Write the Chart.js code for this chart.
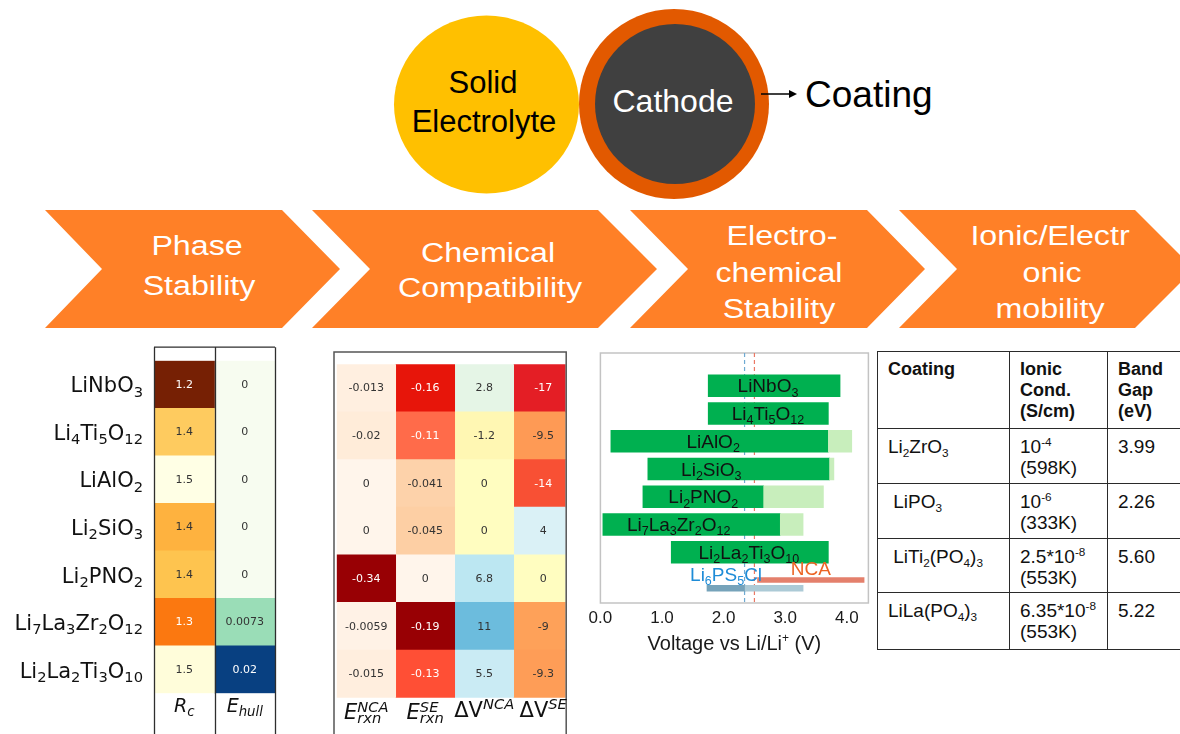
<!DOCTYPE html>
<html><head><meta charset="utf-8">
<script src="https://cdn.jsdelivr.net/npm/chart.js@4.4.1/dist/chart.umd.min.js"></script>
<style>
html,body{margin:0;padding:0;background:#fff;width:1180px;height:734px;overflow:hidden;position:relative;font-family:"Liberation Sans",Arial,sans-serif;}
#deco{position:absolute;left:0;top:0;}
canvas{position:absolute;}
#hm1{left:0;top:340px;}
#hm2{left:320px;top:340px;}
#volt{left:585px;top:340px;}
#tbl{position:absolute;left:877px;top:351px;border-collapse:collapse;table-layout:fixed;width:330px;}
#tbl td{border:1.5px solid #2a2a2a;vertical-align:top;padding:7px 0 0 10px;line-height:21px;font-size:19px;color:#111;white-space:pre;box-sizing:border-box;}
#tbl tr.h td{font-weight:bold;font-size:18px;}
#tbl sub{font-size:0.62em;vertical-align:-0.3em;line-height:0;}
#tbl sup{font-size:0.62em;vertical-align:0.6em;line-height:0;}
</style></head>
<body>
<svg id="deco" width="1180" height="734" font-family="Liberation Sans, Arial, sans-serif">
  <ellipse cx="486.5" cy="104.5" rx="92.5" ry="89" fill="#FFC000"/>
  <circle cx="674" cy="104" r="95" fill="rgb(226,89,0)"/>
  <circle cx="675" cy="104" r="80" fill="#404040"/>
  <text x="483" y="93" font-size="31" text-anchor="middle" fill="#000">Solid</text>
  <text x="484" y="132" font-size="31" text-anchor="middle" fill="#000">Electrolyte</text>
  <text x="673" y="112" font-size="32" text-anchor="middle" fill="#fff">Cathode</text>
  <line x1="761" y1="94" x2="790" y2="94" stroke="#000" stroke-width="1.5"/>
  <polygon points="789,90 797,94 789,98" fill="#000"/>
  <text x="805" y="107" font-size="37" fill="#000">Coating</text>
  <g fill="rgb(255,128,39)">
    <polygon points="45,210 282,210 340,269 282,328 45,328 102,269"/>
    <polygon points="312,210 598,210 657,269 598,328 312,328 370,269"/>
    <polygon points="630,210 867,210 925,269 867,328 630,328 688,269"/>
    <polygon points="899,210 1135,210 1194,269 1135,328 899,328 957,269"/>
  </g>
  <g fill="#fff" font-size="28" text-anchor="middle">
    <text transform="translate(197,255) scale(1.15,1)">Phase</text>
    <text transform="translate(199,295) scale(1.15,1)">Stability</text>
    <text transform="translate(488,262) scale(1.15,1)">Chemical</text>
    <text transform="translate(490,297) scale(1.15,1)">Compatibility</text>
    <text transform="translate(782,245) scale(1.15,1)">Electro-</text>
    <text transform="translate(779,282) scale(1.15,1)">chemical</text>
    <text transform="translate(779,318) scale(1.15,1)">Stability</text>
    <text transform="translate(1050,245) scale(1.15,1)">Ionic/Electr</text>
    <text transform="translate(1052,282) scale(1.15,1)">onic</text>
    <text transform="translate(1050,318) scale(1.15,1)">mobility</text>
  </g>
</svg>
<canvas id="hm1" width="290" height="394"></canvas>
<canvas id="hm2" width="260" height="394"></canvas>
<canvas id="volt" width="290" height="320"></canvas>
<table id="tbl"></table>
<script>
// ---------------- DATA ----------------
const coatings = ['LiNbO_3','Li_4Ti_5O_{12}','LiAlO_2','Li_2SiO_3','Li_2PNO_2','Li_7La_3Zr_2O_{12}','Li_2La_2Ti_3O_{10}'];
// Phase stability
const rc    = [1.21, 1.40, 1.50, 1.376, 1.391, 1.326, 1.49];
const eHull = [0, 0, 0, 0, 0, 0.0073, 0.02];
const phaseLabels = ['R_c', 'E_{hull}'];
// Chemical compatibility
const eRxnNCA = [-0.013, -0.02, 0, 0, -0.34, -0.0059, -0.015];
const eRxnSE  = [-0.16, -0.11, -0.041, -0.045, 0, -0.19, -0.13];
const dVNCA   = [2.8, -1.2, 0, 0, 6.8, 11, 5.5];
const dVSE    = [-17, -9.5, -14, 4, 0, -9, -9.3];
const chemLabels = ['E_{rxn}^{NCA}', 'E_{rxn}^{SE}', 'ΔV^{NCA}', 'ΔV^{SE}'];
// Electrochemical stability windows (V vs Li/Li+)
const stableLow    = [1.75, 1.75, 0.17, 0.77, 0.69, 0.04, 1.15];
const stableHigh   = [3.89, 3.70, 3.70, 3.72, 2.65, 2.92, 3.70];
const extendedHigh = [null, null, 4.08, 3.79, 3.62, 3.29, null];
const ncaWindow    = [2.55, 4.28];
const lpscStable   = [1.73, 2.35];
const lpscExtended = [2.35, 3.29];
const seLimit = 2.34, ncaLimit = 2.50;
const voltTicks = [0, 1, 2, 3, 4];
// Ionic / electronic mobility table
const tblCoatings = ['Li_2ZrO_3', ' LiPO_3', ' LiTi_2(PO_4)_3', 'LiLa(PO_4)_3'];
const ionicCond   = ['10^{-4}', '10^{-6}', '2.5*10^{-8}', '6.35*10^{-8}'];
const condTemp    = ['598K', '333K', '553K', '553K'];
const bandGap     = ['3.99', '2.26', '5.60', '5.22'];

// ---------------- STYLE ----------------
const voltStyle = { labelAt: [2.72, 2.72, 1.83, 1.80, 1.67, 1.27, 2.41] };
const YLORBR = [[0,[255,255,229]],[.125,[255,247,188]],[.25,[254,227,145]],[.375,[254,196,79]],[.5,[254,153,41]],[.625,[250,112,10]],[.75,[210,76,2]],[.875,[160,52,4]],[1,[118,32,4]]];
const GNBU = [[0,[247,252,240]],[.125,[224,243,219]],[.25,[204,235,197]],[.375,[150,220,182]],[.5,[123,204,196]],[.625,[78,179,211]],[.75,[43,140,190]],[.875,[8,104,172]],[1,[8,64,129]]];
const ERXN = [[0,[255,245,235]],[.25,[253,205,160]],[.55,[255,115,80]],[.7,[255,75,50]],[.85,[230,18,8]],[1,[152,0,4]]];
const RDYLBU = [[0,[190,0,35]],[.1,[240,40,38]],[.2,[255,120,65]],[.3,[253,175,97]],[.4,[254,232,150]],[.5,[255,253,192]],[.6,[218,241,246]],[.7,[175,226,240]],[.8,[85,175,215]],[.9,[60,120,180]],[1,[49,54,149]]];

function cmap(stops, t){
  t = Math.max(0, Math.min(1, t));
  for (let i = 1; i < stops.length; i++){
    if (t <= stops[i][0]){
      const [t0,c0] = stops[i-1], [t1,c1] = stops[i];
      const f = (t - t0) / (t1 - t0);
      return c0.map((v,k) => Math.round(v + (c1[k]-v)*f));
    }
  }
  return stops[stops.length-1][1];
}
const rgbStr = c => `rgb(${c[0]},${c[1]},${c[2]})`;
function lum(c){
  const l = c.map(v => { v/=255; return v <= 0.03928 ? v/12.92 : Math.pow((v+0.055)/1.055, 2.4); });
  return 0.2126*l[0] + 0.7152*l[1] + 0.0722*l[2];
}
function g2(v){
  if (v === 0) return '0';
  let s = v.toPrecision(2);
  if (s.includes('e')) s = String(Number(s));
  if (s.includes('.')) s = s.replace(/0+$/, '').replace(/\.$/, '');
  return s;
}
function parseRich(s){
  const out = []; let i = 0, buf = '';
  const flush = () => { if (buf){ out.push({k:'n', t:buf}); buf=''; } };
  while (i < s.length){
    const ch = s[i];
    if (ch === '_' || ch === '^'){
      flush(); let t;
      if (s[i+1] === '{'){ const j = s.indexOf('}', i+2); t = s.slice(i+2, j); i = j+1; }
      else { t = s[i+1]; i += 2; }
      out.push({k: ch === '_' ? 'sub' : 'sup', t});
    } else { buf += ch; i++; }
  }
  flush(); return out;
}
const fontStr = (it, sz, fam) => `${it ? 'italic ' : ''}${sz}px "${fam}"`;
function drawRich(ctx, s, x, y, o){
  o = Object.assign({italic:false, scale:0.7, subDy:0.2, supDy:0.4, subDy2:0.2, supDy2:0.36, align:'left', color:'#111'}, o);
  const toks = parseRich(s), items = []; let w = 0;
  const bf = fontStr(o.italic, o.size, o.family);
  const sf = fontStr(o.scriptItalic ?? o.italic, o.size*o.scale, o.family);
  for (let i = 0; i < toks.length; i++){
    const t = toks[i];
    if (t.k === 'n'){ ctx.font = bf; items.push({t:t.t, x:w, dy:0, f:bf}); w += ctx.measureText(t.t).width; continue; }
    ctx.font = sf;
    const n = toks[i+1];
    if (n && n.k !== 'n' && n.k !== t.k){
      const sub = t.k === 'sub' ? t : n, sup = t.k === 'sup' ? t : n;
      items.push({t:sub.t, x:w, dy:o.size*o.subDy2, f:sf});
      items.push({t:sup.t, x:w, dy:-o.size*o.supDy2, f:sf});
      w += Math.max(ctx.measureText(sub.t).width, ctx.measureText(sup.t).width);
      i++;
    } else {
      items.push({t:t.t, x:w, dy: t.k === 'sub' ? o.size*o.subDy : -o.size*o.supDy, f:sf});
      w += ctx.measureText(t.t).width;
    }
  }
  const x0 = o.align === 'center' ? x - w/2 : o.align === 'right' ? x - w : x;
  ctx.save(); ctx.fillStyle = o.color; ctx.textAlign = 'left'; ctx.textBaseline = 'alphabetic';
  for (const it of items){ ctx.font = it.f; ctx.fillText(it.t, x0 + it.x, y + it.dy); }
  ctx.restore();
  return w;
}

const baseOpts = {
  responsive:false, animation:false, devicePixelRatio:1, events:[],
};
const basePlugins = { legend:{display:false}, tooltip:{enabled:false} };

// heatmap cell-text plugin (shared)
function cellText(chart){
  const {ctx, scales:{x, y}} = chart;
  chart.data.datasets.forEach((ds, c) => {
    ds.values.forEach((v, i) => {
      const col = ds.rgb[i];
      ctx.save();
      ctx.font = '11px "DejaVu Sans"';
      ctx.textAlign = 'center'; ctx.textBaseline = 'middle';
      ctx.fillStyle = lum(col) > 0.408 ? '#333333' : '#ffffff';
      ctx.fillText(g2(v), x.getPixelForValue(c + 0.5), y.getPixelForValue(i) + 0.5);
      ctx.restore();
    });
  });
}

// ---------------- PHASE STABILITY HEATMAP ----------------
(function(){
  const rcMin = Math.min(...rc), rcMax = Math.max(...rc);
  const ehMin = Math.min(...eHull), ehMax = Math.max(...eHull);
  const rcCols = rc.map(v => cmap(YLORBR, (rcMax - v)/(rcMax - rcMin)));
  const ehCols = eHull.map(v => cmap(GNBU, (v - ehMin)/(ehMax - ehMin)));
  const deco = {
    id:'hm1Deco',
    afterDatasetsDraw(chart){
      const {ctx, chartArea:a, scales:{x, y}} = chart;
      cellText(chart);
      ctx.save();
      ctx.strokeStyle = '#2e2e2e'; ctx.lineWidth = 1.3;
      const top = a.top - 13.5;
      ctx.beginPath();
      [0,1,2].forEach(c => { const px = Math.round(x.getPixelForValue(c)) + 0.5; ctx.moveTo(px, top); ctx.lineTo(px, chart.height); });
      ctx.moveTo(x.getPixelForValue(0), top); ctx.lineTo(x.getPixelForValue(2), top);
      ctx.stroke();
      ctx.restore();
      coatings.forEach((c, i) => drawRich(ctx, c, a.left - 11, y.getPixelForValue(i) + 8,
        {size:21, family:'DejaVu Sans', align:'right', color:'#111', scale:0.7, subDy:0.2}));
      phaseLabels.forEach((l, c) => drawRich(ctx, l, x.getPixelForValue(c + 0.5), a.bottom + 18.5,
        {size:19, family:'DejaVu Sans', italic:true, align:'center', color:'#111', scale:0.7, subDy:0.2}));
    }
  };
  new Chart(document.getElementById('hm1'), {
    type:'bar',
    data:{ labels: coatings, datasets:[
      {data: coatings.map(() => [0,1]), backgroundColor: rcCols.map(rgbStr), values: rc, rgb: rcCols},
      {data: coatings.map(() => [1,2]), backgroundColor: ehCols.map(rgbStr), values: eHull, rgb: ehCols}
    ]},
    options: Object.assign({}, baseOpts, {
      indexAxis:'y',
      layout:{padding:{left:154, right:15, top:20.7, bottom:40.7}},
      datasets:{bar:{grouped:false, barPercentage:1, categoryPercentage:1, borderWidth:0}},
      scales:{ x:{type:'linear', min:0, max:2, display:false}, y:{type:'category', display:false} },
      plugins: basePlugins
    }),
    plugins:[deco]
  });
})();

// ---------------- CHEMICAL COMPATIBILITY HEATMAP ----------------
(function(){
  const cols = [eRxnNCA, eRxnSE, dVNCA, dVSE];
  const colors = cols.map((arr, c) => {
    if (c < 2){ const mn = Math.min(...arr); return arr.map(v => cmap(ERXN, v / mn)); }
    return arr.map(v => cmap(RDYLBU, (v + 20) / 40));
  });
  const deco = {
    id:'hm2Deco',
    afterDatasetsDraw(chart){
      const {ctx, chartArea:a, scales:{x, y}} = chart;
      cellText(chart);
      ctx.save();
      ctx.strokeStyle = '#555'; ctx.lineWidth = 1.5;
      const top = a.top - 12.3, l = a.left - 2.7, r = a.right + 0.6;
      ctx.beginPath();
      ctx.moveTo(l, chart.height); ctx.lineTo(l, top); ctx.lineTo(r, top); ctx.lineTo(r, chart.height);
      ctx.stroke();
      ctx.restore();
      chemLabels.forEach((lab, c) => {
        const isE = lab[0] === 'E';
        drawRich(ctx, lab, x.getPixelForValue(c + 0.5), a.bottom + (isE ? 21.3 : 19.3),
          {size:21, family:'DejaVu Sans', italic:isE, scriptItalic:true, align:'center', color:'#111',
           scale:0.7, subDy2:0.2, supDy2:0.34, supDy:0.38});
      });
    }
  };
  new Chart(document.getElementById('hm2'), {
    type:'bar',
    data:{ labels: coatings, datasets: cols.map((arr, c) => ({
      data: arr.map(() => [c, c + 1]), backgroundColor: colors[c].map(rgbStr), values: arr, rgb: colors[c]
    }))},
    options: Object.assign({}, baseOpts, {
      indexAxis:'y',
      layout:{padding:{left:16.7, right:14.4, top:24.3, bottom:36.3}},
      datasets:{bar:{grouped:false, barPercentage:1, categoryPercentage:1, borderWidth:0}},
      scales:{ x:{type:'linear', min:0, max:3.88, display:false}, y:{type:'category', display:false} },
      plugins: basePlugins
    }),
    plugins:[deco]
  });
})();

// ---------------- ELECTROCHEMICAL STABILITY ----------------
(function(){
  const refRow = coatings.length;      // NCA row
  const lpscRow = coatings.length + 0.3;
  const deco = {
    id:'voltDeco',
    beforeDatasetsDraw(chart){
      const {ctx, chartArea:a, scales:{x}} = chart;
      ctx.save();
      ctx.strokeStyle = 'rgb(195,195,195)'; ctx.lineWidth = 1.5;
      ctx.strokeRect(a.left, a.top, a.right - a.left, a.bottom - a.top);
      ctx.setLineDash([4,3]); ctx.lineWidth = 1.2;
      [[seLimit,'rgb(110,170,210)'],[ncaLimit,'rgb(235,120,100)']].forEach(([v, col]) => {
        const px = x.getPixelForValue(v);
        ctx.strokeStyle = col; ctx.beginPath(); ctx.moveTo(px, a.top); ctx.lineTo(px, a.bottom); ctx.stroke();
      });
      ctx.restore();
    },
    afterDatasetsDraw(chart){
      const {ctx, chartArea:a, scales:{x, y}} = chart;
      coatings.forEach((c, i) => drawRich(ctx, c, x.getPixelForValue(voltStyle.labelAt[i]), y.getPixelForValue(i) + 6.7,
        {size:19, family:'Liberation Sans', align:'center', color:'#111', scale:0.66, subDy:0.22}));
      drawRich(ctx, 'NCA', x.getPixelForValue((ncaWindow[0] + ncaWindow[1]) / 2), y.getPixelForValue(refRow) - 4.5,
        {size:19, family:'Liberation Sans', align:'center', color:'rgb(236,100,36)'});
      drawRich(ctx, 'Li_6PS_5Cl', x.getPixelForValue((lpscStable[0] + lpscStable[1]) / 2), y.getPixelForValue(lpscRow) - 7,
        {size:19, family:'Liberation Sans', align:'center', color:'rgb(30,140,215)', scale:0.66, subDy:0.22});
      ctx.save();
      ctx.fillStyle = '#1a1a1a'; ctx.font = '17px "Liberation Sans"';
      ctx.textAlign = 'center'; ctx.textBaseline = 'alphabetic';
      voltTicks.forEach(v => ctx.fillText(v.toFixed(1), x.getPixelForValue(v), a.bottom + 20));
      ctx.restore();
      drawRich(ctx, 'Voltage vs Li/Li^+ (V)', (a.left + a.right) / 2, a.bottom + 47,
        {size:20, family:'Liberation Sans', align:'center', color:'#1a1a1a', scale:0.6, supDy:0.38});
    }
  };
  new Chart(document.getElementById('volt'), {
    type:'bar',
    data:{ datasets:[
      {data: coatings.map((c, i) => extendedHigh[i] == null ? null : {x:[stableHigh[i], extendedHigh[i]], y:i}).filter(Boolean),
       backgroundColor:'rgb(200,238,188)', barThickness:22},
      {data: coatings.map((c, i) => ({x:[stableLow[i], stableHigh[i]], y:i})), backgroundColor:'#00B050', barThickness:22},
      {data:[{x:ncaWindow, y:refRow}], backgroundColor:'rgb(228,128,108)', barThickness:5},
      {data:[{x:lpscExtended, y:lpscRow}], backgroundColor:'rgb(172,202,214)', barThickness:6, clip:false},
      {data:[{x:lpscStable, y:lpscRow}], backgroundColor:'rgb(118,163,186)', barThickness:6, clip:false}
    ]},
    options: Object.assign({}, baseOpts, {
      indexAxis:'y',
      layout:{padding:{left:15.4, right:6.6, top:13, bottom:57}},
      datasets:{bar:{grouped:false, borderWidth:0}},
      scales:{ x:{type:'linear', min:0, max:4.35, display:false, stacked:false},
               y:{type:'linear', min:-0.68, max:7.33, reverse:true, display:false} },
      plugins: basePlugins
    }),
    plugins:[deco]
  });
})();

// ---------------- TABLE ----------------
(function(){
  const esc = s => s.replace(/&/g,'&amp;').replace(/</g,'&lt;');
  const rich = s => parseRich(s).map(t => t.k === 'n' ? esc(t.t) : t.k === 'sub' ? `<sub>${esc(t.t)}</sub>` : `<sup>${esc(t.t)}</sup>`).join('');
  const heights = [55, 55, 54, 57];
  let h = '<colgroup><col style="width:132px"><col style="width:98px"><col style="width:100px"></colgroup>';
  h += '<tr class="h" style="height:77px"><td>Coating</td><td>Ionic\nCond.\n(S/cm)</td><td>Band\nGap\n(eV)</td></tr>';
  tblCoatings.forEach((c, i) => {
    h += `<tr style="height:${heights[i]}px"><td>${rich(c)}</td><td>${rich(ionicCond[i])}\n(${condTemp[i]})</td><td>${bandGap[i]}</td></tr>`;
  });
  document.getElementById('tbl').innerHTML = h;
})();
</script>
</body></html>
